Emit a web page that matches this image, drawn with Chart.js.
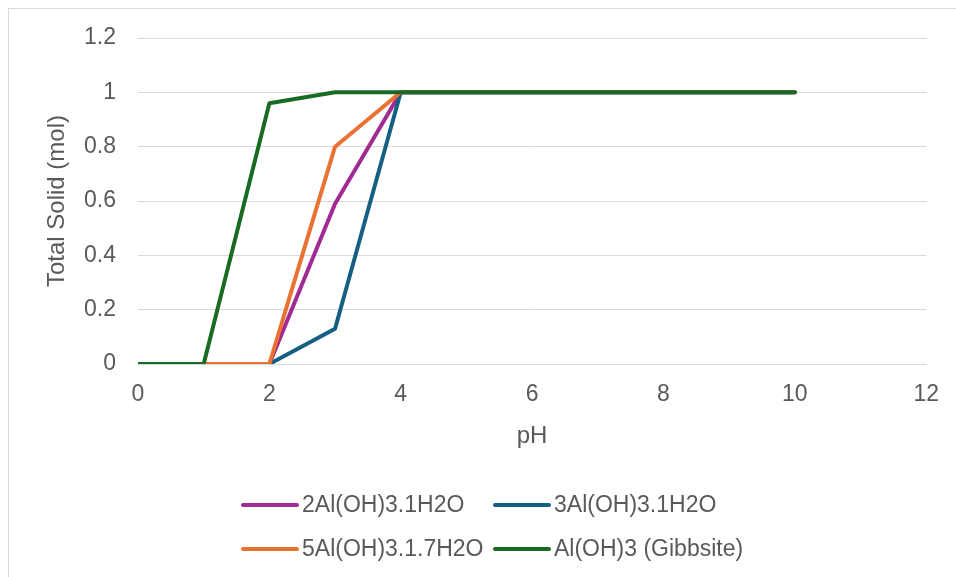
<!DOCTYPE html>
<html>
<head>
<meta charset="utf-8">
<script src="https://cdn.jsdelivr.net/npm/chart.js@4.4.1/dist/chart.umd.min.js"></script>
<style>
  html, body { margin: 0; padding: 0; background: #fff; overflow: hidden; }
  #frame { position: absolute; left: 8px; top: 8px; width: 1200px; height: 800px; border: 1px solid #d9d9d9; }
  #wrap { position: absolute; left: 0; top: 0; width: 956px; height: 577px; }
</style>
</head>
<body>
<div id="frame"></div>
<div id="wrap"><canvas id="myChart"></canvas></div>
<script>
const pH = [0, 1, 2, 3, 4, 5, 6, 7, 8, 9, 10];
const seriesNames = ['2Al(OH)3.1H2O', '3Al(OH)3.1H2O', '5Al(OH)3.1.7H2O', 'Al(OH)3 (Gibbsite)'];
const solid2Al = [0, 0, 0, 0.59, 1, 1, 1, 1, 1, 1, 1];
const solid3Al = [0, 0, 0, 0.13, 1, 1, 1, 1, 1, 1, 1];
const solid5Al = [0, 0, 0, 0.80, 1, 1, 1, 1, 1, 1, 1];
const gibbsite = [0, 0, 0.96, 1, 1, 1, 1, 1, 1, 1, 1];
const xTicks = [0, 2, 4, 6, 8, 10, 12];
const yTicks = [0, 0.2, 0.4, 0.6, 0.8, 1, 1.2];

const colors = ['#A02B93', '#156082', '#E97132', '#196B24'];
const textColor = '#595959';
const fontFamily = '"Liberation Sans", Arial, sans-serif';

const toPoints = values => values.map((v, i) => ({ x: pH[i], y: v }));

const datasets = [solid2Al, solid3Al, solid5Al, gibbsite].map((values, i) => ({
  label: seriesNames[i],
  data: toPoints(values),
  borderColor: colors[i],
  backgroundColor: colors[i],
  borderWidth: 4,
  borderJoinStyle: 'round',
  borderCapStyle: 'round',
  pointRadius: 0,
  tension: 0,
  fill: false,
  order: 3 - i, // last series on top, like excel
}));

// legend laid out in 2 columns like the excel one
const legendLayout = {
  cols: [243, 495],
  rows: [505, 549],
  lineLength: 54,
  gap: 5,
};

const gridLegend = {
  id: 'gridLegend',
  afterDraw(chart) {
    const ctx = chart.ctx;
    ctx.save();
    ctx.font = '23px ' + fontFamily;
    ctx.textBaseline = 'middle';
    ctx.textAlign = 'left';
    chart.data.datasets.forEach((ds, i) => {
      const x = legendLayout.cols[i % 2];
      const y = legendLayout.rows[Math.floor(i / 2)];
      ctx.strokeStyle = ds.borderColor;
      ctx.lineWidth = 4;
      ctx.lineCap = 'round';
      ctx.beginPath();
      ctx.moveTo(x, y);
      ctx.lineTo(x + legendLayout.lineLength, y);
      ctx.stroke();
      ctx.fillStyle = textColor;
      ctx.fillText(ds.label, x + legendLayout.lineLength + legendLayout.gap, y + 1);
    });
    ctx.restore();
  }
};

const ctx = document.getElementById('myChart');

new Chart(ctx, {
  type: 'line',
  data: { datasets },
  plugins: [gridLegend],
  options: {
    responsive: true,
    maintainAspectRatio: false,
    animation: false,
    layout: {
      padding: { left: 0, right: 29, top: 38, bottom: 124 },
    },
    plugins: {
      legend: { display: false },
      tooltip: { enabled: false },
    },
    scales: {
      x: {
        type: 'linear',
        min: xTicks[0],
        max: xTicks[xTicks.length - 1],
        afterBuildTicks: scale => { scale.ticks = xTicks.map(v => ({ value: v })); },
        afterFit: scale => { scale.height = 89; },
        grid: { display: false, drawTicks: false },
        border: { display: false },
        ticks: {
          color: textColor,
          padding: 17,
          maxRotation: 0,
          font: { family: fontFamily, size: 23 },
        },
        title: {
          display: true,
          text: 'pH',
          color: textColor,
          padding: { top: 0, bottom: 2 },
          font: { family: fontFamily, size: 24 },
        },
      },
      y: {
        min: yTicks[0],
        max: yTicks[yTicks.length - 1],
        afterBuildTicks: scale => { scale.ticks = yTicks.map(v => ({ value: v })); },
        afterFit: scale => { scale.width = 138; },
        grid: { color: '#d9d9d9', lineWidth: 1, drawTicks: false },
        border: { display: false },
        ticks: {
          color: textColor,
          padding: 22,
          font: { family: fontFamily, size: 23 },
          callback: v => String(+v.toFixed(1)),
        },
        title: {
          display: true,
          text: 'Total Solid (mol)',
          color: textColor,
          padding: { top: 43, bottom: 0 },
          font: { family: fontFamily, size: 24 },
        },
      },
    },
  },
});
</script>
</body>
</html>
